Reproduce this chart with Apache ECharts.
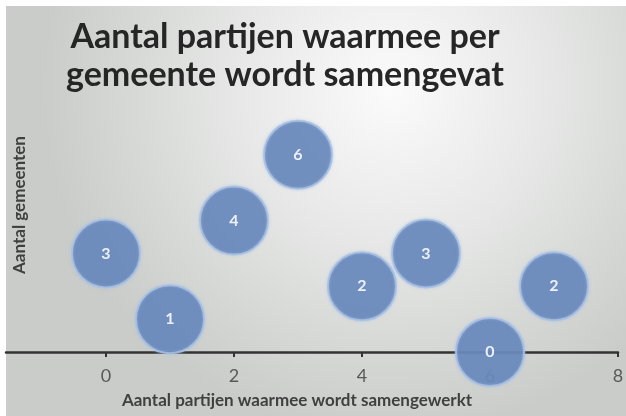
<!DOCTYPE html>
<html>
<head>
<meta charset="utf-8">
<script src="https://cdn.jsdelivr.net/npm/echarts@6/dist/echarts.min.js"></script>
<style>html,body{margin:0;padding:0;background:#fff;}#c{width:626px;height:416px;}</style>
</head>
<body>
<div id="c"></div>
<script>
var titleText = 'Aantal partijen waarmee per\ngemeente wordt samengevat';
var xAxisName = 'Aantal partijen waarmee wordt samengewerkt';
var yAxisName = 'Aantal gemeenten';
var partijen = [0, 1, 2, 3, 4, 5, 6, 7];
var gemeenten = [3, 1, 4, 6, 2, 3, 0, 2];
var xTicks = [0, 2, 4, 6, 8];

var chart = echarts.init(document.getElementById('c'));
var data = partijen.map(function (x, i) { return [x, gemeenten[i]]; });
chart.setOption({
  backgroundColor: '#ffffff',
  graphic: [
    {
      type: 'rect', z: -100, silent: true,
      shape: { x: 6, y: 6, width: 620, height: 410 },
      style: {
        fill: new echarts.graphic.RadialGradient(0.62, 0.2, 0.85, [
          { offset: 0, color: '#fbfbfb' },
          { offset: 0.45, color: '#e6e7e6' },
          { offset: 1, color: '#c9ccc9' }
        ], false)
      }
    },
    {
      type: 'text', rotation: Math.PI / 2, x: 20, y: 205,
      style: { text: yAxisName, font: 'bold 17px Lato', fill: '#404040', align: 'center', verticalAlign: 'middle' }
    }
  ],
  title: {
    text: titleText,
    left: 280, top: 13, textAlign: 'center',
    textStyle: { fontFamily: 'Lato', fontWeight: 'bold', fontSize: 34, lineHeight: 38, color: '#262626' }
  },
  grid: { left: 6, right: 8, top: 122, bottom: 64, containLabel: false, outerBoundsMode: 'none' },
  xAxis: {
    type: 'value', min: -1.5625, max: 8,
    splitLine: { show: false },
    axisLine: { onZero: true, lineStyle: { color: '#333333', width: 2.5 } },
    axisTick: { show: true, length: 5, customValues: xTicks, lineStyle: { color: '#333333', width: 2 } },
    axisLabel: { customValues: xTicks, margin: 15, fontFamily: 'Lato', fontSize: 18, color: '#595959' },
    name: xAxisName, nameLocation: 'middle', nameGap: 40,
    nameTextStyle: { fontFamily: 'Lato', fontWeight: 'bold', fontSize: 17, color: '#404040', padding: [0, 30, 0, 0] }
  },
  yAxis: {
    type: 'value', min: 0, max: 7,
    show: false, splitLine: { show: false }
  },
  series: [{
    type: 'scatter',
    data: data,
    symbolSize: 68,
    clip: false,
    itemStyle: {
      color: '#6484b8', opacity: 0.87,
      borderColor: '#a9c0e2', borderWidth: 2,
      shadowColor: 'rgba(160,190,230,0.6)', shadowBlur: 3
    },
    label: {
      show: true, position: 'inside',
      formatter: function (p) { return p.value[1]; },
      color: '#ffffff', fontFamily: 'Lato', fontWeight: 'bold', fontSize: 16
    },
    emphasis: { disabled: true }
  }]
});
</script>
</body>
</html>
